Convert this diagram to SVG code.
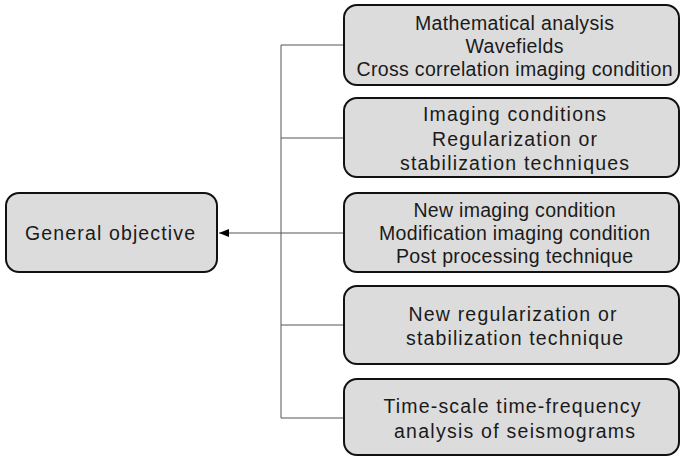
<svg xmlns="http://www.w3.org/2000/svg" width="680" height="456" viewBox="0 0 680 456">
<style>
.box{fill:#dcdcdc;stroke:#111;stroke-width:2}
.t{font-family:"Liberation Sans",Arial,sans-serif;font-size:19.5px;fill:#1a1a1a;text-anchor:middle}
.c{stroke:#555;stroke-width:1;fill:none}
</style>
<defs>
<marker id="ah" markerWidth="10" markerHeight="8" refX="10" refY="4" orient="auto" markerUnits="userSpaceOnUse">
<path d="M0,0 L10,4 L0,8 z" fill="#000"/>
</marker>
</defs>
<rect width="680" height="456" fill="#fff"/>
<g id="connectors">
<path class="c" d="M281,45 V418"/>
<path class="c" d="M281,45 H344 M281,138 H344 M281,325 H344 M281,418 H344 M281,233 H344"/>
<path class="c" d="M281,233 H219" marker-end="url(#ah)"/>
</g>
<g id="general">
<rect class="box" x="6" y="193" width="211" height="79" rx="13"/>
<text class="t" x="110" y="240" textLength="170" lengthAdjust="spacing">General objective</text>
</g>
<g id="n1">
<rect class="box" x="344" y="5" width="335" height="80" rx="13"/>
<text class="t" x="514.5" y="30" textLength="199" lengthAdjust="spacing">Mathematical analysis</text>
<text class="t" x="514.5" y="53" textLength="98" lengthAdjust="spacing">Wavefields</text>
<text class="t" x="514.5" y="76" textLength="316" lengthAdjust="spacing">Cross correlation imaging condition</text>
</g>
<g id="n2">
<rect class="box" x="344" y="98" width="335" height="79" rx="13"/>
<text class="t" x="514.5" y="121" textLength="183" lengthAdjust="spacing">Imaging conditions</text>
<text class="t" x="514.5" y="146" textLength="165" lengthAdjust="spacing">Regularization or</text>
<text class="t" x="514.5" y="169.5" textLength="229" lengthAdjust="spacing">stabilization techniques</text>
</g>
<g id="n3">
<rect class="box" x="344" y="193" width="335" height="79" rx="13"/>
<text class="t" x="514.5" y="217" textLength="202" lengthAdjust="spacing">New imaging condition</text>
<text class="t" x="514.5" y="240" textLength="271" lengthAdjust="spacing">Modification imaging condition</text>
<text class="t" x="514.5" y="262.5" textLength="237" lengthAdjust="spacing">Post processing technique</text>
</g>
<g id="n4">
<rect class="box" x="344" y="286" width="335" height="78" rx="13"/>
<text class="t" x="512.5" y="321" textLength="208" lengthAdjust="spacing">New regularization or</text>
<text class="t" x="514.5" y="345" textLength="217" lengthAdjust="spacing">stabilization technique</text>
</g>
<g id="n5">
<rect class="box" x="344" y="379" width="335" height="76" rx="13"/>
<text class="t" x="512" y="413" textLength="257" lengthAdjust="spacing">Time-scale time-frequency</text>
<text class="t" x="514.5" y="438" textLength="241" lengthAdjust="spacing">analysis of seismograms</text>
</g>
</svg>
